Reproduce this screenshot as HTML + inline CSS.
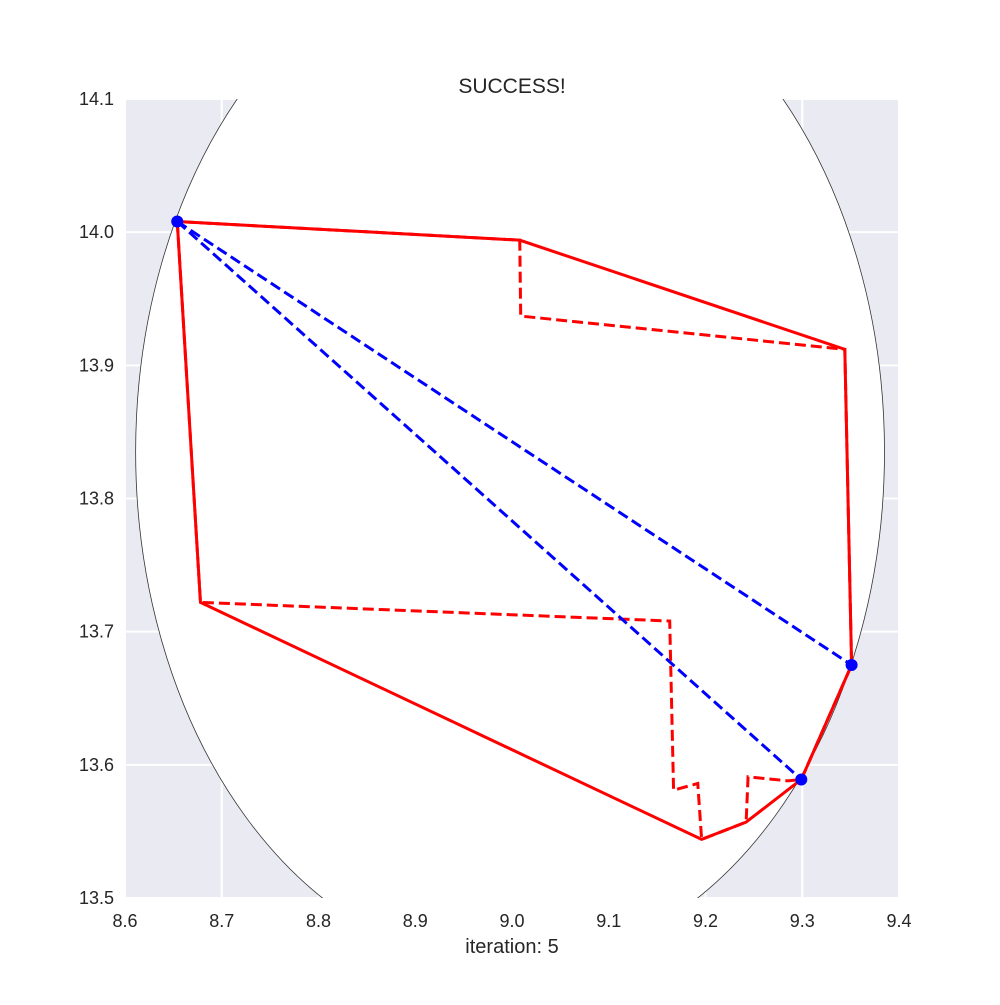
<!DOCTYPE html>
<html><head><meta charset="utf-8"><style>
body{margin:0;background:#fff;}
svg text{font-family:"Liberation Sans","DejaVu Sans",sans-serif;fill:#262626;}
</style></head><body>
<svg width="1000" height="1000" xmlns="http://www.w3.org/2000/svg">
<rect x="0" y="0" width="1000" height="1000" fill="#fff"/>
<defs><clipPath id="ax"><rect x="125" y="99" width="774" height="799"/></clipPath></defs>
<rect x="125" y="99" width="774" height="799" fill="#EAEAF2"/>
<g id="grid"></g>
<g clip-path="url(#ax)" id="marks"></g>
<g id="ticks"></g>
<text x="512" y="93" font-size="21" text-anchor="middle">SUCCESS!</text>
<text x="512" y="953" font-size="20" text-anchor="middle">iteration: 5</text>
</svg>
<script>
const xTicks=[8.6,8.7,8.8,8.9,9.0,9.1,9.2,9.3,9.4];
const xTickLabels=["8.6","8.7","8.8","8.9","9.0","9.1","9.2","9.3","9.4"];
const yTicks=[13.5,13.6,13.7,13.8,13.9,14.0,14.1];
const yTickLabels=["13.5","13.6","13.7","13.8","13.9","14.0","14.1"];
const circleCenter=[8.998,13.835];
const circleRadius=0.387;
const solidX=[8.654,9.008,9.344,9.351,9.299,9.242,9.196,8.678,8.654];
const solidY=[14.008,13.994,13.912,13.675,13.589,13.557,13.544,13.722,14.008];
const dashedX=[8.654,8.678,9.163,9.167,9.192,9.196,9.242,9.244,9.285,9.299,9.351,9.344,9.009,9.008,8.654];
const dashedY=[14.008,13.722,13.708,13.581,13.586,13.544,13.557,13.591,13.588,13.589,13.675,13.912,13.937,13.994,14.008];
const blue1X=[8.654,9.351];const blue1Y=[14.008,13.675];
const blue2X=[8.654,9.299];const blue2Y=[14.008,13.589];
const dotX=[8.654,9.351,9.299];const dotY=[14.008,13.675,13.589];
const X0=125,X1=899,Y0=898,Y1=99;
const sx=v=>X0+(v-8.6)/0.8*(X1-X0);
const sy=v=>Y0-(v-13.5)/0.6*(Y0-Y1);
const NS="http://www.w3.org/2000/svg";
function mk(t,a,p){const e=document.createElementNS(NS,t);for(const k in a)e.setAttribute(k,a[k]);p.appendChild(e);return e;}
const grid=document.getElementById('grid'),marks=document.getElementById('marks'),ticks=document.getElementById('ticks');
xTicks.forEach((v,i)=>{const l=mk('line',{x1:sx(v),x2:sx(v),y1:Y1,y2:Y0,stroke:'#fff','stroke-width':2},grid);

const t=mk('text',{x:sx(v),y:927,'font-size':18,'text-anchor':'middle'},ticks);t.textContent=xTickLabels[i];
});
yTicks.forEach((v,i)=>{const l=mk('line',{x1:X0,x2:X1,y1:sy(v),y2:sy(v),stroke:'#fff','stroke-width':2},grid);

const t=mk('text',{x:114,y:sy(v)+6,'font-size':18,'text-anchor':'end'},ticks);t.textContent=yTickLabels[i];
});
const c=mk('ellipse',{cx:sx(circleCenter[0]),cy:sy(circleCenter[1]),rx:sx(circleCenter[0]+circleRadius)-sx(circleCenter[0]),ry:sy(circleCenter[1]-circleRadius)-sy(circleCenter[1]),fill:'#fff',stroke:'#333','stroke-width':0.8},marks);

function poly(xs,ys,col,dash,name){const p=mk('polyline',{points:xs.map((x,i)=>sx(x)+','+sy(ys[i])).join(' '),fill:'none',stroke:col,'stroke-width':3,'stroke-linejoin':'miter'},marks);
if(dash)p.setAttribute('stroke-dasharray','11,5');
}
poly(dashedX,dashedY,'#f00',true,'previous-hull-dashed');
poly(solidX,solidY,'#f00',false,'current-hull');
poly(blue1X,blue1Y,'#00f',true,'blue-diagonal-1');
poly(blue2X,blue2Y,'#00f',true,'blue-diagonal-2');
dotX.forEach((x,i)=>{const d=mk('circle',{cx:sx(x),cy:sy(dotY[i]),r:6,fill:'#00f'},marks);
});
</script>
</body></html>
